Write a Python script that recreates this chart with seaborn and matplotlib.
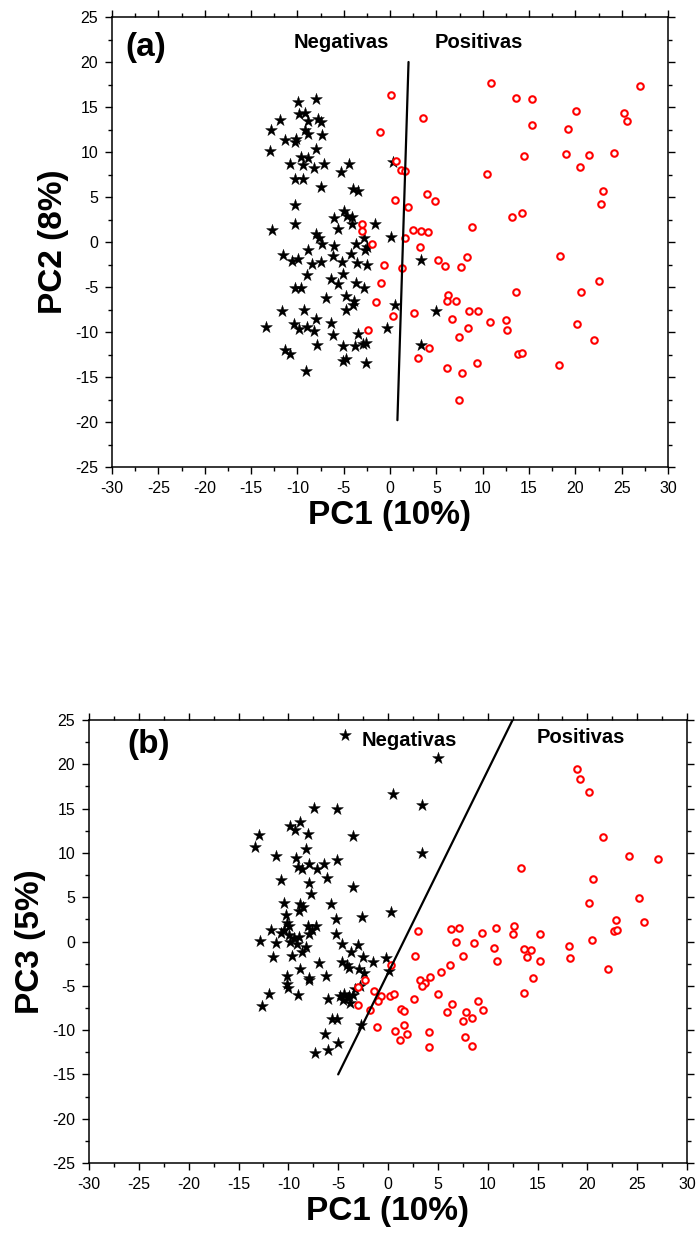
import numpy as np
import pandas as pd
import matplotlib
matplotlib.use("Agg")
import matplotlib.pyplot as plt
from matplotlib.ticker import MultipleLocator
import seaborn as sns

# ---------------- Panel (a): PC1 vs PC2 ----------------
a_neg_x = [-9.9, -8.0, -11.9, -9.8, -9.2, -8.9, -7.8, -7.5, -12.8, -9.2, -8.9, -7.3, -11.3, -10.3,
           -10.1, -12.9, -8.0, -9.6, -8.8, -10.8, -9.4, -8.2, -7.1, -4.4, -5.3, -10.3, -9.4, -7.5,
           -4.0, -3.4, 0.3, -10.3, -10.2, -12.7, -5.0, -6.0, -4.6, -4.1, -4.1, -1.6, -5.6, -8.0,
           -7.7, -7.3, -6.0, -3.7, -2.8, -2.5, -2.7, 0.1, -8.8, -4.2, -11.6, -10.6, -9.9, -8.4,
           -7.5, -6.2, -5.2, -3.6, -2.5, 3.3, -9.0, -6.4, -5.1, -5.6, -3.7, -2.8, -10.2, -9.6,
           -6.9, -4.8, -3.9, -4.0, -4.8, 0.5, -11.7, -9.3, 5.0, -13.4, -10.4, -9.8, -9.0, -8.0,
           -8.2, -6.4, -6.1, -3.5, -0.3, -7.9, -5.1, -3.8, -2.9, -2.6, 3.3, -11.3, -10.8, -5.1,
           -4.7, -2.6, -9.1]
a_neg_y = [15.6, 15.9, 13.6, 14.2, 14.3, 13.4, 13.7, 13.3, 12.4, 12.4, 12.0, 11.9, 11.3, 11.1,
           11.5, 10.1, 10.3, 9.5, 9.3, 8.7, 8.6, 8.2, 8.7, 8.7, 7.8, 7.0, 7.0, 6.1,
           5.9, 5.7, 8.9, 4.1, 2.0, 1.3, 3.5, 2.7, 2.9, 2.8, 2.0, 2.0, 1.4, 0.9,
           0.5, -0.2, -0.4, -0.2, 0.4, -0.5, -0.9, 0.6, -0.9, -1.3, -1.4, -2.1, -1.9, -2.4,
           -2.2, -1.6, -2.2, -2.3, -2.5, -2.0, -3.7, -4.1, -3.5, -4.7, -4.6, -5.1, -5.1, -5.1,
           -6.2, -6.0, -6.6, -7.0, -7.5, -7.0, -7.7, -7.5, -7.7, -9.4, -9.1, -9.7, -9.4, -8.6,
           -9.9, -9.0, -10.3, -10.2, -9.5, -11.4, -11.5, -11.5, -11.3, -11.2, -11.4, -12.0, -12.4, -13.2,
           -13.0, -13.4, -14.3]

a_pos_x = [10.9, 27.0, 0.1, 13.6, 15.3, 3.6, -1.1, 20.1, 25.2, 25.6, 15.3, 19.2, 14.5, 19.0,
           21.5, 24.2, 20.5, 10.5, 0.6, 1.2, 1.6, 0.5, 4.0, 4.9, 1.9, 23.0, 22.8, 13.2,
           14.2, 8.9, 2.5, 3.3, 4.1, 1.6, 3.2, 5.2, 8.3, 18.3, 5.9, 7.7, -0.7, 1.3,
           -1.0, 22.6, 13.6, 20.6, 6.3, 6.2, 7.1, 0.3, 2.6, 6.7, 8.5, 9.5, 10.8, 12.5,
           12.6, 8.4, 7.4, 20.2, 22.0, 4.2, 3.0, 13.8, 14.2, 6.2, 7.8, 9.4, 18.2, 7.4,
           -3.0, -3.0, -1.9, -1.5, -2.4]
a_pos_y = [17.7, 17.3, 16.3, 16.0, 15.9, 13.8, 12.2, 14.6, 14.3, 13.4, 13.0, 12.6, 9.6, 9.8,
           9.7, 9.9, 8.3, 7.6, 9.0, 8.0, 7.9, 4.7, 5.3, 4.6, 3.9, 5.7, 4.2, 2.8,
           3.2, 1.7, 1.3, 1.2, 1.1, 0.4, -0.6, -2.0, -1.7, -1.5, -2.7, -2.8, -2.6, -2.9,
           -4.6, -4.3, -5.6, -5.6, -5.9, -6.6, -6.6, -8.2, -7.9, -8.6, -7.7, -7.7, -8.9, -8.7,
           -9.8, -9.6, -10.6, -9.1, -10.9, -11.8, -12.9, -12.4, -12.3, -14.0, -14.5, -13.4, -13.7, -17.5,
           2.0, 1.2, -0.2, -6.7, -9.8]

a_line_x = [0.8, 2.0]
a_line_y = [-19.8, 20.0]

# ---------------- Panel (b): PC1 vs PC3 ----------------
b_neg_x = [-4.3, 5.0, 0.5, 3.4, -7.4, -5.1, -8.8, -9.8, -9.3, -12.9, -8.0, -3.5, -13.3, -8.2,
           -11.2, 3.4, -9.2, -9.0, -8.6, -7.9, -7.1, -6.4, -5.1, -6.1, -10.7, -7.9, -7.7, -3.5,
           -10.4, -8.8, -8.5, -8.9, -5.7, 0.3, -10.2, -5.2, -2.6, -10.1, -9.9, -10.4, -11.7, -10.7,
           -9.9, -9.4, -8.9, -8.0, -7.6, -7.2, -7.9, -5.2, -12.8, -11.2, -9.8, -9.1, -8.2, -4.6,
           -3.0, -3.7, -8.6, -11.5, -9.6, -2.5, -1.5, -0.2, -6.9, -4.6, -4.1, -3.9, -2.9, -2.4,
           0.1, -8.8, -6.2, -10.1, -7.9, -7.9, -10.1, -10.0, -9.0, -11.9, -12.6, -6.0, -4.8, -4.4,
           -3.9, -3.5, -4.5, -3.8, -4.0, -3.3, -2.8, -5.6, -5.1, -2.7, -6.3, -5.0, -6.0, -7.3]
b_neg_y = [23.3, 20.7, 16.7, 15.4, 15.1, 15.0, 13.5, 13.0, 12.6, 12.0, 12.1, 11.9, 10.7, 10.4,
           9.6, 10.0, 9.4, 8.4, 8.2, 8.8, 8.2, 8.8, 9.2, 7.2, 6.9, 6.6, 5.4, 6.1,
           4.4, 4.2, 3.9, 3.4, 4.2, 3.3, 3.0, 2.5, 2.8, 2.1, 1.7, 1.3, 1.3, 1.0,
           0.7, 0.4, 0.5, 1.7, 1.3, 1.7, 0.9, 0.9, 0.1, -0.2, 0.0, -0.3, -0.6, -0.3,
           -0.4, -1.2, -1.2, -1.8, -1.6, -1.8, -2.3, -1.9, -2.4, -2.3, -2.7, -3.0, -3.1, -3.5,
           -3.3, -3.1, -3.9, -3.9, -4.1, -4.4, -4.8, -5.3, -6.0, -5.9, -7.3, -6.5, -6.1, -5.9,
           -6.2, -6.0, -6.6, -6.9, -6.4, -5.4, -5.0, -8.7, -8.8, -9.4, -10.4, -11.5, -12.2, -12.6]

b_pos_x = [0.3, -2.3, -3.0, -1.4, -0.7, -1.0, 0.2, 0.6, -3.0, -1.8, -1.1, 3.0, 2.7, 3.2,
           3.7, 3.4, 4.2, 5.3, 6.2, 6.3, 7.1, 6.8, 7.5, 2.6, 5.0, 6.4, 1.3, 1.6,
           5.9, 7.8, 1.6, 1.9, 0.7, 1.2, 4.1, 4.1, 7.5, 7.7, 25.2, 20.2, 22.9, 25.7,
           22.7, 23.0, 20.5, 18.2, 18.3, 22.1, 15.3, 15.3, 12.6, 12.5, 10.8, 10.9, 10.6, 13.6,
           14.3, 13.9, 14.5, 13.6, 9.4, 8.6, 9.0, 9.5, 8.4, 8.4, 19.0, 19.3, 20.2, 21.6,
           24.2, 27.1, 13.3, 20.6]
b_pos_y = [-2.7, -4.4, -5.1, -5.6, -6.2, -6.7, -6.2, -5.9, -7.2, -7.7, -9.6, 1.2, -1.6, -4.4,
           -4.7, -5.0, -4.0, -3.4, -2.6, 1.4, 1.5, 0.0, -1.6, -6.5, -5.9, -7.0, -7.6, -7.9,
           -8.0, -8.0, -9.4, -10.4, -10.1, -11.1, -10.2, -11.9, -9.0, -10.8, 4.9, 4.3, 2.4, 2.2,
           1.2, 1.3, 0.2, -0.5, -1.9, -3.1, 0.9, -2.2, 1.7, 0.9, 1.5, -2.2, -0.7, -0.9,
           -1.0, -1.8, -4.1, -5.8, 1.0, -0.2, -6.7, -7.7, -8.6, -11.8, 19.5, 18.3, 16.9, 11.8,
           9.7, 9.3, 8.3, 7.0]

b_line_x = [-5.0, 12.5]
b_line_y = [-15.0, 25.0]

panel_labels = ["(a)", "(b)"]
xlabels = ["PC1 (10%)", "PC1 (10%)"]
ylabels = ["PC2 (8%)", "PC3 (5%)"]
group_labels = ["Negativas", "Positivas"]

# ---------------- Styling ----------------
sns.set_style("ticks")
plt.rcParams['font.family'] = ['Liberation Sans', 'DejaVu Sans']
plt.rcParams['axes.linewidth'] = 1.1
plt.rcParams['axes.unicode_minus'] = False
plt.rcParams['text.color'] = 'black'
plt.rcParams['axes.labelcolor'] = 'black'
plt.rcParams['xtick.color'] = 'black'
plt.rcParams['ytick.color'] = 'black'

fig = plt.figure(figsize=(7.0, 12.34), dpi=100)
ax_a = fig.add_axes([112 / 700, 1 - 467 / 1234, (668 - 112) / 700, (467 - 17) / 1234])
ax_b = fig.add_axes([89 / 700, 1 - 1163 / 1234, (687 - 89) / 700, (1163 - 720) / 1234])


def draw_panel(ax, nx, ny, px, py, lx, ly, plabel, xl, yl, neg_pos, pos_pos, plabel_pos):
    df_neg = pd.DataFrame({"x": nx, "y": ny})
    df_pos = pd.DataFrame({"x": px, "y": py})
    sns.scatterplot(data=df_neg, x="x", y="y", ax=ax, marker="*", s=80,
                    color="black", edgecolor="black", linewidth=0.3, zorder=2)
    sns.scatterplot(data=df_pos, x="x", y="y", ax=ax, marker="o", s=22,
                    facecolor="white", edgecolor="#ff0000", linewidth=1.5, zorder=3)
    sns.lineplot(x=lx, y=ly, ax=ax, color="black", linewidth=1.6, sort=False,
                 estimator=None, zorder=4)
    ax.set_xlim(-30, 30)
    ax.set_ylim(-25, 25)
    ax.xaxis.set_major_locator(MultipleLocator(5))
    ax.xaxis.set_minor_locator(MultipleLocator(2.5))
    ax.yaxis.set_major_locator(MultipleLocator(5))
    ax.yaxis.set_minor_locator(MultipleLocator(2.5))
    ax.tick_params(which="both", direction="out", top=True, right=True,
                   labeltop=False, labelright=False, width=1.0, colors="black")
    ax.tick_params(which="major", length=5, labelsize=11.5, pad=5)
    ax.tick_params(which="minor", length=3)
    for s in ax.spines.values():
        s.set_visible(True)
        s.set_color("black")
    ax.set_xlabel(xl, fontsize=24, fontweight="bold", labelpad=3, color="black")
    ax.set_ylabel(yl, fontsize=24, fontweight="bold", labelpad=4, color="black")
    ax.text(plabel_pos[0], plabel_pos[1], plabel, fontsize=24, fontweight="bold",
            ha="center", va="center", color="black")
    ax.text(neg_pos[0], neg_pos[1], group_labels[0], fontsize=14.5, fontweight="bold",
            ha="center", va="center", color="black")
    ax.text(pos_pos[0], pos_pos[1], group_labels[1], fontsize=14.5, fontweight="bold",
            ha="center", va="center", color="black")
    ax.set_facecolor("white")


draw_panel(ax_a, a_neg_x, a_neg_y, a_pos_x, a_pos_y, a_line_x, a_line_y,
           panel_labels[0], xlabels[0], ylabels[0], (-5.3, 22.2), (9.6, 22.2), (-26.4, 21.6))
draw_panel(ax_b, b_neg_x, b_neg_y, b_pos_x, b_pos_y, b_line_x, b_line_y,
           panel_labels[1], xlabels[1], ylabels[1], (2.1, 22.7), (19.3, 23.0), (-24.0, 22.2))

fig.savefig("out.png", dpi=100, facecolor="white")
